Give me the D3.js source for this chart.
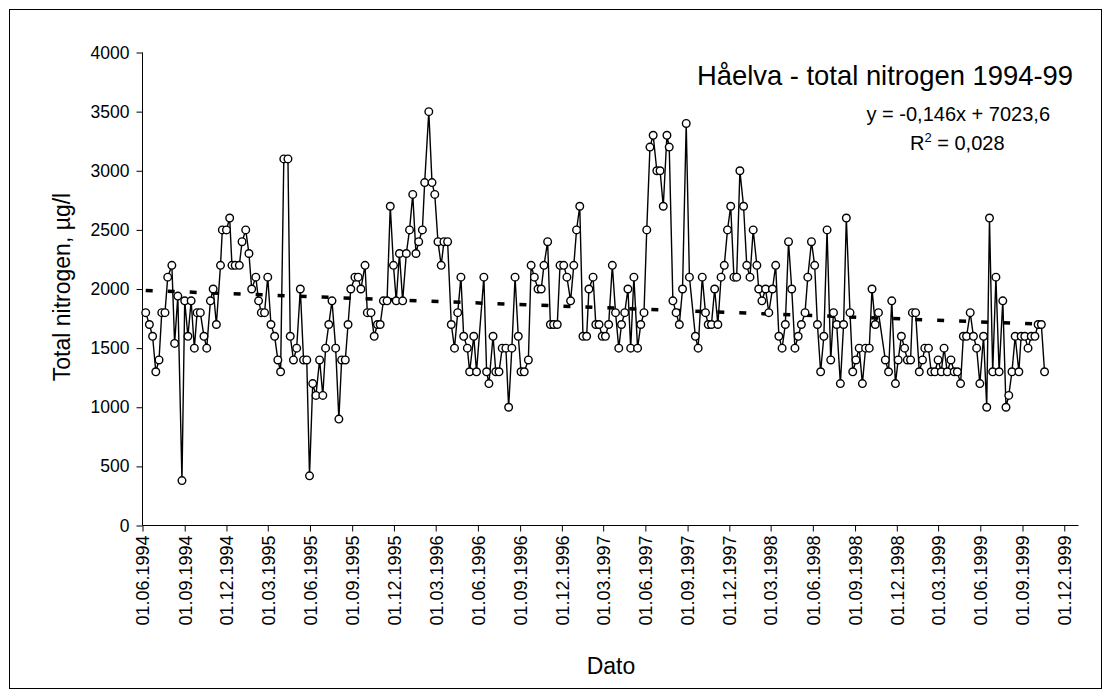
<!DOCTYPE html>
<html><head><meta charset="utf-8">
<script src="https://cdn.jsdelivr.net/npm/d3@7/dist/d3.min.js"></script>
<style>
html,body{margin:0;padding:0;background:#fff;}
text{font-family:"Liberation Sans",Arial,sans-serif;fill:#000;}
</style></head>
<body>
<svg id="chart" width="1111" height="697"></svg>
<script>
// Sample dates as Excel serial day numbers (same x as the trendline equation)
const sampleSerials = [
34493,34501,34508,34515,34522,34528,34535,34541,34550,34556,
34563,34572,34578,34585,34592,34599,34605,34612,34620,34626,
34634,34640,34647,34656,34660,34669,34676,34681,34688,34697,
34703,34711,34718,34724,34733,34739,34745,34752,34759,34766,
34774,34781,34787,34794,34803,34808,34815,34822,34830,34837,
34844,34850,34857,34864,34872,34879,34885,34892,34899,34907,
34914,34920,34928,34934,34940,34949,34956,34962,34971,34976,
34984,34991,34998,35004,35011,35019,35026,35033,35039,35046,
35053,35061,35068,35075,35082,35088,35096,35101,35110,35117,
35123,35130,35137,35143,35151,35159,35166,35173,35180,35186,
35194,35199,35208,35214,35230,35236,35241,35250,35256,35263,
35270,35278,35284,35291,35298,35305,35311,35318,35327,35333,
35340,35348,35355,35361,35369,35375,35382,35390,35396,35404,
35411,35419,35426,35432,35439,35446,35454,35459,35468,35474,
35481,35488,35495,35502,35510,35517,35524,35530,35537,35544,
35550,35557,35565,35572,35579,35585,35592,35599,35607,35614,
35621,35629,35634,35642,35649,35656,35663,35671,35678,35691,
35697,35706,35713,35719,35726,35733,35740,35747,35754,35761,
35768,35775,35781,35788,35796,35803,35810,35817,35825,35829,
35836,35844,35851,35859,35866,35873,35880,35887,35894,35901,
35908,35915,35922,35930,35936,35944,35951,35957,35964,35971,
35978,35986,35992,35999,36007,36014,36020,36028,36034,36041,
36048,36055,36062,36070,36076,36083,36090,36105,36112,36119,
36127,36133,36140,36147,36153,36160,36164,36171,36179,36186,
36191,36199,36205,36213,36220,36227,36233,36240,36248,36255,
36262,36269,36275,36282,36290,36297,36304,36311,36319,36326,
36332,36339,36346,36353,36361,36368,36374,36381,36388,36396,
36401,36409,36416,36423,36431,36438,36445,36452
];
// Total nitrogen, µg/l
const nitrogenValues = [
1800,1700,1600,1300,1400,1800,1800,2100,2200,1540,
1940,380,1900,1600,1900,1500,1800,1800,1600,1500,
1900,2000,1700,2200,2500,2500,2600,2200,2200,2200,
2400,2500,2300,2000,2100,1900,1800,1800,2100,1700,
1600,1400,1300,3100,3100,1600,1400,1500,2000,1400,
1400,420,1200,1100,1400,1100,1500,1700,1900,1500,
900,1400,1400,1700,2000,2100,2100,2000,2200,1800,
1800,1600,1700,1700,1900,1900,2700,2200,1900,2300,
1900,2300,2500,2800,2300,2400,2500,2900,3500,2900,
2800,2400,2200,2400,2400,1700,1500,1800,2100,1600,
1500,1300,1600,1300,2100,1300,1200,1600,1300,1300,
1500,1500,1000,1500,2100,1600,1300,1300,1400,2200,
2100,2000,2000,2200,2400,1700,1700,1700,2200,2200,
2100,1900,2200,2500,2700,1600,1600,2000,2100,1700,
1700,1600,1600,1700,2200,1800,1500,1700,1800,2000,
1500,2100,1500,1700,1800,2500,3200,3300,3000,3000,
2700,3300,3200,1900,1800,1700,2000,3400,2100,1600,
1500,2100,1800,1700,1700,2000,1700,2100,2200,2500,
2700,2100,2100,3000,2700,2200,2100,2500,2200,2000,
1900,2000,1800,2000,2200,1600,1500,1700,2400,2000,
1500,1600,1700,1800,2100,2400,2200,1700,1300,1600,
2500,1400,1800,1700,1200,1700,2600,1800,1300,1400,
1500,1200,1500,1500,2000,1700,1800,1400,1300,1900,
1200,1400,1600,1500,1400,1400,1800,1800,1300,1400,
1500,1500,1300,1300,1400,1300,1500,1300,1400,1300,
1300,1200,1600,1600,1800,1600,1500,1200,1600,1000,
2600,1300,2100,1300,1900,1000,1100,1300,1600,1300,
1600,1600,1500,1600,1600,1700,1700,1300
];
const xTickLabels = ["01.06.1994","01.09.1994","01.12.1994","01.03.1995","01.06.1995","01.09.1995",
"01.12.1995","01.03.1996","01.06.1996","01.09.1996","01.12.1996","01.03.1997","01.06.1997",
"01.09.1997","01.12.1997","01.03.1998","01.06.1998","01.09.1998","01.12.1998","01.03.1999",
"01.06.1999","01.09.1999","01.12.1999"];
const yTickValues = [0,500,1000,1500,2000,2500,3000,3500,4000];
const xDomainLabels = ["01.06.1994","01.01.2000"];
const trendSlope = -0.146, trendIntercept = 7023.6;
const chartTitle = "Håelva - total nitrogen 1994-99";
const eqText = "y = -0,146x + 7023,6";
const r2Value = "0,028";
const yTitle = "Total nitrogen, µg/l";
const xTitle = "Dato";

const parse = d3.utcParse("%d.%m.%Y");
const serialToDate = s => new Date(Date.UTC(1899,11,30) + s*864e5);
const data = sampleSerials.map((s,i)=>({date:serialToDate(s), serial:s, v:nitrogenValues[i]}));

const svg = d3.select("#chart");
const font = '"Liberation Sans",Arial,sans-serif';

// outer chart border
svg.append("rect").attr("x",9.5).attr("y",9.5).attr("width",1092).attr("height",679)
  .attr("fill","#fff").attr("stroke","#000").attr("stroke-width",1);

const x = d3.scaleUtc().domain(xDomainLabels.map(parse)).range([142.5,1078.5]);
const y = d3.scaleLinear().domain([0,4000]).range([525.5,52.5]);

// y axis
const yAxis = svg.append("g").attr("transform","translate(142.5,0)")
  .call(d3.axisLeft(y).tickValues(yTickValues).tickSize(6).tickPadding(7).tickFormat(d3.format("d")));
yAxis.select(".domain").attr("stroke","#000").attr("d","M0,52.5V525.5");
yAxis.selectAll("text").style("font-family",font).style("font-size","17.5px");

// x axis
const xAxis = svg.append("g").attr("transform","translate(0,525.5)")
  .call(d3.axisBottom(x).tickValues(xTickLabels.map(parse)).tickSize(6).tickFormat(d3.utcFormat("%d.%m.%Y")));
xAxis.select(".domain").attr("stroke","#000").attr("d","M142.5,0H1078.5");
xAxis.selectAll("text")
  .style("font-family",font).style("font-size","18px")
  .attr("text-anchor","end")
  .attr("transform","rotate(-90)")
  .attr("x",-10).attr("y",0).attr("dy","0.35em");

// trendline
const first = data[0], last = data[data.length-1];
const trend = [first, last].map(d=>({date:d.date, v:trendSlope*d.serial+trendIntercept}));
svg.append("path").datum(trend)
  .attr("d", d3.line().x(d=>x(d.date)).y(d=>y(d.v)))
  .attr("fill","none").attr("stroke","#000").attr("stroke-width",3.5)
  .attr("stroke-dasharray","7,15");

// data line
svg.append("path").datum(data)
  .attr("d", d3.line().x(d=>x(d.date)).y(d=>y(d.v)))
  .attr("fill","none").attr("stroke","#000").attr("stroke-width",1.4);

// markers
svg.append("g").selectAll("circle").data(data).join("circle")
  .attr("cx",d=>x(d.date)).attr("cy",d=>y(d.v)).attr("r",3.8)
  .attr("fill","#fff").attr("stroke","#000").attr("stroke-width",1.4);

// texts
svg.append("text").attr("x",1073).attr("y",85).attr("text-anchor","end")
  .style("font-size","27.4px").text(chartTitle);
svg.append("text").attr("x",1050).attr("y",120.5).attr("text-anchor","end")
  .style("font-size","20px").text(eqText);
const r2 = svg.append("text").attr("x",910).attr("y",150).style("font-size","20px");
r2.append("tspan").text("R");
r2.append("tspan").attr("dy",-8).style("font-size","13px").text("2");
r2.append("tspan").attr("dy",8).text(" = " + r2Value);

svg.append("text").attr("transform","translate(70,287) rotate(-90)").attr("text-anchor","middle")
  .style("font-size","23px").text(yTitle);
svg.append("text").attr("x",611).attr("y",674).attr("text-anchor","middle")
  .style("font-size","23px").text(xTitle);
</script>
</body></html>
